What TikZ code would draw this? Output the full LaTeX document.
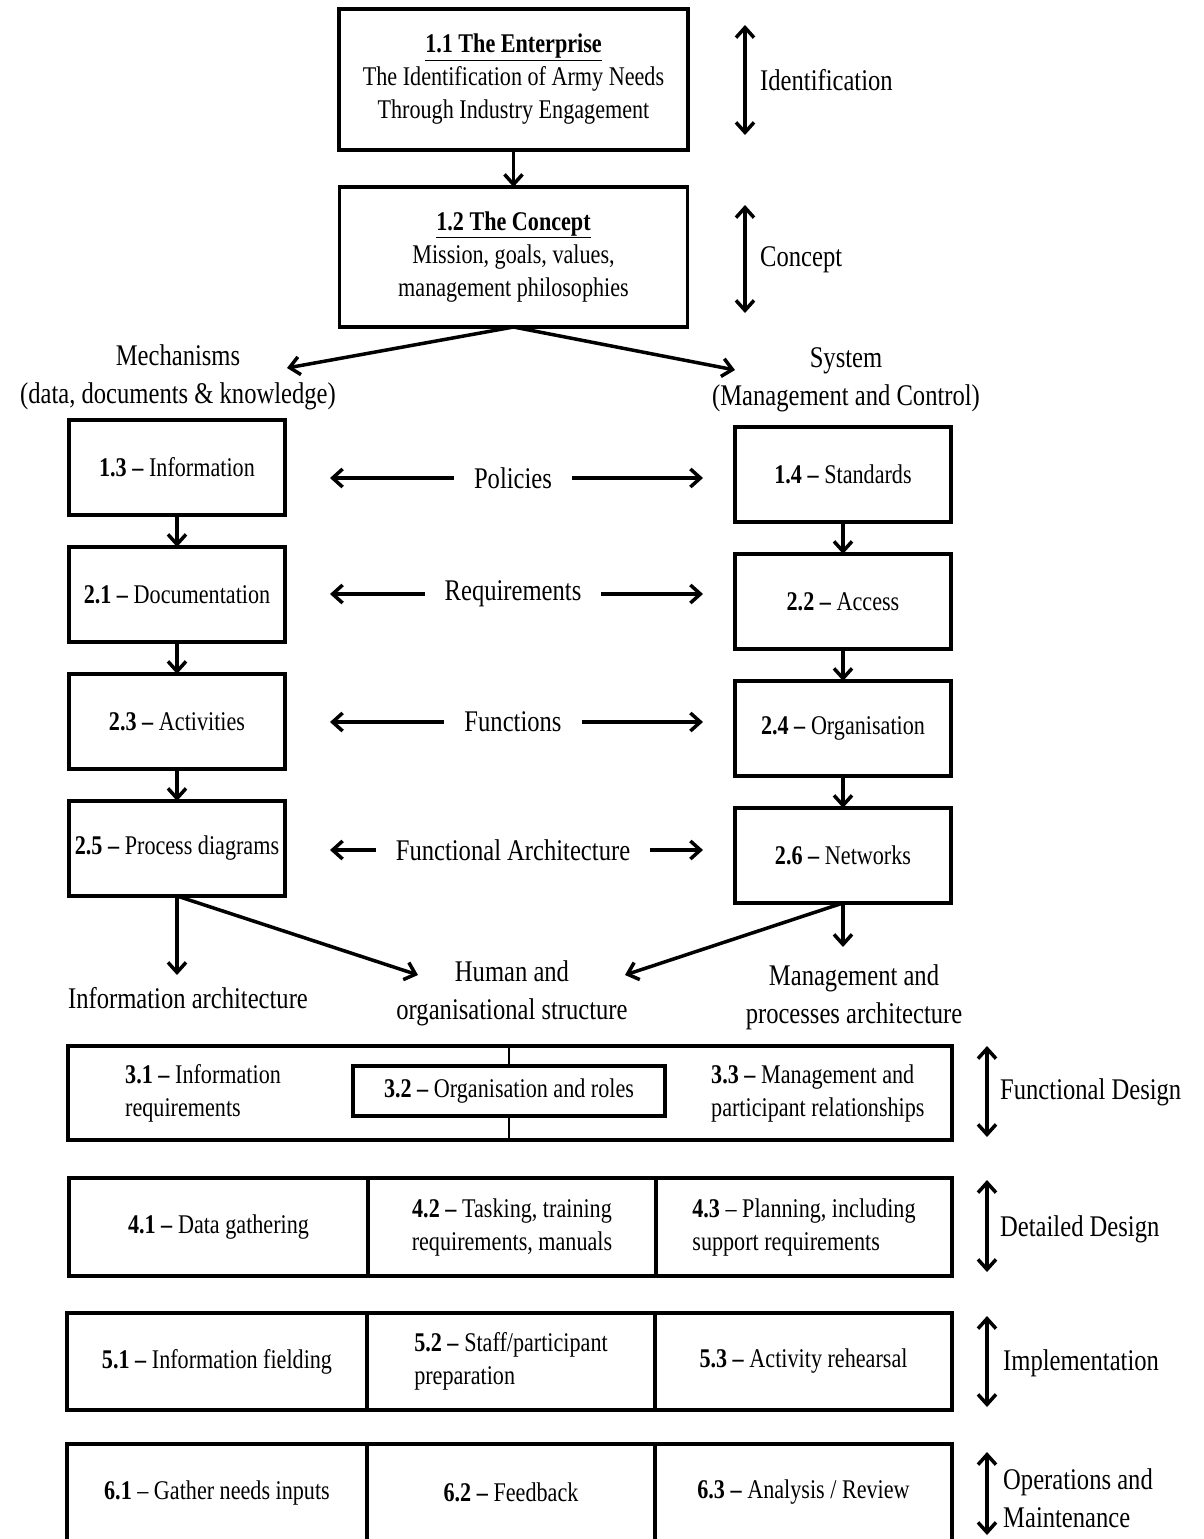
\documentclass[tikz,border=0pt]{standalone}
\usepackage{fontspec}
\setmainfont[FakeStretch=0.82]{Liberation Serif}
\usetikzlibrary{arrows.meta, positioning}
\newcommand{\boxfont}{\fontsize{27}{33}\selectfont}
\newcommand{\lblfont}{\fontsize{30}{38}\selectfont}

\begin{document}
\begin{tikzpicture}[
    x=1pt, y=-1pt,
    box/.style={rectangle, draw=black, line width=3.5pt, outer sep=0pt, minimum width=216pt, minimum height=95pt, inner sep=2pt, align=center, font=\boxfont},
    cell/.style={rectangle, draw=black, line width=3.5pt, outer sep=0pt, minimum height=97pt, inner sep=2pt, align=center, font=\boxfont},
    txt/.style={align=center, font=\lblfont, inner sep=0pt},
    celltxt/.style={align=left, font=\boxfont, inner sep=0pt, anchor=west},
    mid/.style={font=\lblfont, inner xsep=20pt, inner ysep=0pt, outer sep=0pt},
    arrow/.style={line width=3.5pt, -{Straight Barb[length=10pt, width=18pt, line width=3.5pt]}},
    both/.style={line width=3.5pt, {Straight Barb[length=10pt, width=18pt, line width=3.5pt]}-{Straight Barb[length=10pt, width=18pt, line width=3.5pt]}}
]
\useasboundingbox (0,0) rectangle (1203,1539);

% Enterprise and concept
\node[box, minimum width=349pt, minimum height=141pt] (enterprise) at (513.5,79.5) {\underline{\textbf{1.1 The Enterprise}}\\The Identification of Army Needs\\Through Industry Engagement};
\node[box, minimum width=348pt, minimum height=140pt, below=37pt of enterprise] (concept) {\underline{\textbf{1.2 The Concept}}\\Mission, goals, values,\\management philosophies};
\draw[arrow] (enterprise) -- (concept);

% Stage markers at the top
\node[txt, anchor=west] (ident) at (760,80) {Identification};
\coordinate (identtop) at (745,25);
\coordinate (identbot) at (745,135);
\draw[both] (identtop) -- (identbot);
\node[txt, anchor=west] (conc) at (760,260) {Concept};
\coordinate (conctop) at (745,205);
\coordinate (concbot) at (745,313);
\draw[both] (conctop) -- (concbot);

% Split
\node[txt] (mech) at (178,377) {Mechanisms\\(data, documents \& knowledge)};
\node[txt] (sys) at (846,379.5) {System\\(Management and Control)};
\coordinate (mechtip) at (287,368);
\coordinate (systip) at (735,370);
\draw[arrow] (concept.south) -- (mechtip);
\draw[arrow] (concept.south) -- (systip);

% Mechanisms column
\node[box] (info) at (177,467.5) {\textbf{1.3 –} Information};
\node[box, below=32pt of info] (doc) {\textbf{2.1 –} Documentation};
\node[box, below=32pt of doc] (act) {\textbf{2.3 –} Activities};
\node[box, below=32pt of act] (proc) {\textbf{2.5 –} Process diagrams};
\draw[arrow] (info) -- (doc);
\draw[arrow] (doc) -- (act);
\draw[arrow] (act) -- (proc);

% System column
\node[box] (std) at (843,474.5) {\textbf{1.4 –} Standards};
\node[box, below=32pt of std] (acc) {\textbf{2.2 –} Access};
\node[box, below=32pt of acc] (org) {\textbf{2.4 –} Organisation};
\node[box, below=32pt of org] (net) {\textbf{2.6 –} Networks};
\draw[arrow] (std) -- (acc);
\draw[arrow] (acc) -- (org);
\draw[arrow] (org) -- (net);

% Links between columns
\node[mid] (pol) at (513,478) {Policies};
\node[mid] (req) at (513,594) {Requirements};
\node[mid] (fun) at (513,722) {Functions};
\node[mid] (farch) at (513,850) {Functional Architecture};
\foreach \l/\a/\b in {pol/info/std, req/doc/acc, fun/act/org, farch/proc/net} {
  \draw[arrow, shorten >=45pt] (\l) -- (\l -| \a.east);
  \draw[arrow, shorten >=32pt] (\l) -- (\l -| \b.west);
}

% Architectures
\node[txt] (infoarch) at (188,998) {Information architecture};
\node[txt] (human) at (512,993) {Human and\\organisational structure};
\node[txt] (mgmt) at (854,997) {Management and\\processes architecture};
\coordinate (infotip) at (177,975);
\coordinate (humtipl) at (418,975);
\coordinate (humtipr) at (625,975);
\coordinate (mgmttip) at (843,947);
\draw[arrow] (proc.south) -- (infotip);
\draw[arrow] (proc.south) -- (humtipl);
\draw[arrow] (net.south) -- (humtipr);
\draw[arrow] (net.south) -- (mgmttip);

% Functional design
\node[cell, minimum width=884pt, minimum height=94pt] (fd) at (510,1093) {};
\node[cell, minimum width=312pt, minimum height=50pt] (roles) at (509,1091) {\textbf{3.2 –} Organisation and roles};
\draw[line width=2pt] (fd.north -| roles.north) -- (roles.north);
\draw[line width=2pt] (roles.south) -- (roles.south |- fd.south);
\node[celltxt] (inforeq) at (125,1093) {\textbf{3.1 –} Information\\requirements};
\node[celltxt] (mgmtrel) at (711,1093) {\textbf{3.3 –} Management and\\participant relationships};

% Detailed design
\node[cell, minimum width=299pt, minimum height=98pt] (data) at (218.5,1227) {\textbf{4.1 –} Data gathering};
\node[cell, minimum width=288pt, minimum height=98pt, right=0pt of data] (task) {\textbf{4.2 –} Tasking, training\\requirements, manuals};
\node[cell, minimum width=296pt, minimum height=98pt, right=0pt of task, align=left] (plan) {\textbf{4.3} – Planning, including\\support requirements};

% Implementation
\node[cell, minimum width=300pt] (field) at (217,1361.5) {\textbf{5.1 –} Information fielding};
\node[cell, minimum width=288pt, right=0pt of field, align=left] (staff) {\textbf{5.2 –} Staff/participant\\preparation};
\node[cell, minimum width=297pt, right=0pt of staff] (rehe) {\textbf{5.3 –} Activity rehearsal};

% Operations and maintenance
\node[cell, minimum width=300pt] (needs) at (217,1492.5) {\textbf{6.1} – Gather needs inputs};
\node[cell, minimum width=288pt, right=0pt of needs] (feed) {\textbf{6.2 –} Feedback};
\node[cell, minimum width=297pt, right=0pt of feed] (review) {\textbf{6.3 –} Analysis / Review};

% Stage markers at the bottom
\node[txt, anchor=west] (fdlbl) at (1000,1092) {Functional Design};
\node[txt, anchor=west] (ddlbl) at (1000,1229) {Detailed Design};
\node[txt, anchor=west] (implbl) at (1003,1363) {Implementation};
\node[txt, anchor=west, align=left] (opslbl) at (1003,1498) {Operations and\\Maintenance};
\coordinate (fdtop) at (987,1046);
\coordinate (fdbot) at (987,1137);
\coordinate (ddtop) at (987,1180);
\coordinate (ddbot) at (987,1272);
\coordinate (imptop) at (987,1316);
\coordinate (impbot) at (987,1407);
\coordinate (opstop) at (987,1452);
\coordinate (opsbot) at (987,1535);
\draw[both] (fdtop) -- (fdbot);
\draw[both] (ddtop) -- (ddbot);
\draw[both] (imptop) -- (impbot);
\draw[both] (opstop) -- (opsbot);

\end{tikzpicture}
\end{document}
